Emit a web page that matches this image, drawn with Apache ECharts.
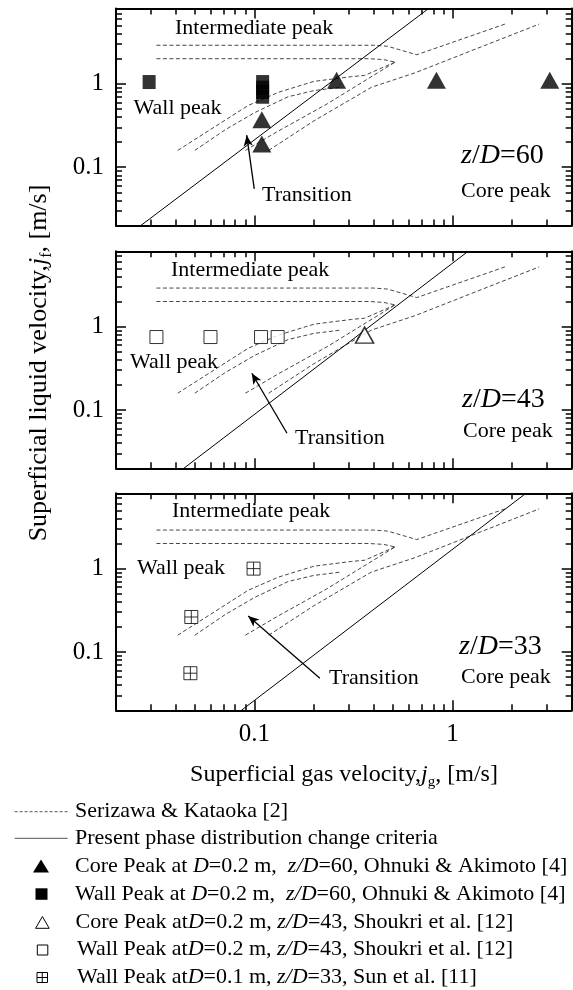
<!DOCTYPE html>
<html><head><meta charset="utf-8">
<script src="https://cdn.jsdelivr.net/npm/echarts@6/dist/echarts.min.js"></script>
<style>html,body{margin:0;padding:0;background:#fff}#c{width:573px;height:990px}</style>
</head><body><div id="c"></div>
<script>
// ---------------- data ----------------
const X_MIN = 0.02, X_MAX = 4;
const Y_MIN = 0.02, Y_MAX = 8;
const xTickMajor = [0.1, 1];
const xTickMinor = [0.03,0.04,0.05,0.06,0.07,0.08,0.09,0.2,0.3,0.4,0.5,0.6,0.7,0.8,0.9,2,3];
const yTickMajor = [0.1, 1];
const yTickMinor = [0.03,0.04,0.05,0.06,0.07,0.08,0.09,0.2,0.3,0.4,0.5,0.6,0.7,0.8,0.9,2,3,4,5,6,7];

// Serizawa & Kataoka map boundaries (same on every panel)
const skUpper     = [[0.032,2.9],[0.40,2.9],[0.47,2.82],[0.56,2.5],[0.66,2.23],[1.84,5.2]];
const skLower     = [[0.032,2.0],[0.38,2.0],[0.45,1.95],[0.513,1.82]];
const skWallTrans = [[0.041,0.159],[0.093,0.55],[0.132,0.79],[0.2,1.07],[0.31,1.22],[0.36,1.26],[0.513,1.82]];
const skInner     = [[0.050,0.159],[0.071,0.28],[0.1,0.45],[0.148,0.70],[0.2,0.83],[0.275,0.91]];
const skTransCore = [[0.090,0.159],[0.129,0.263],[0.233,0.575],[0.513,1.82]];
const skCore      = [[0.118,0.159],[0.2,0.36],[0.39,0.91],[0.645,1.35],[2.74,5.2]];

// Present phase distribution change criteria
const critP1 = [[0.0267,0.02],[0.758,8]];
const critP2 = [[0.044,0.02],[1.2,8]];
const critP3 = [[0.086,0.02],[2.35,8]];

// Experimental points
const p1CoreX = [0.26, 0.83, 3.1, 0.109, 0.109];
const p1CoreY = [1.1, 1.1, 1.1, 0.37, 0.19];
const p1WallX = [0.0294, 0.11, 0.11, 0.11, 0.11];
const p1WallY = [1.05, 0.7, 0.8, 0.9, 1.05];
const p2CoreX = [0.36];
const p2CoreY = [0.79];
const p2WallX = [0.032, 0.060, 0.108, 0.131];
const p2WallY = [0.75, 0.75, 0.75, 0.75];
const p3WallX = [0.099, 0.048, 0.0475];
const p3WallY = [1.0, 0.263, 0.0557];

// "Transition" arrows [tail, head]
const arrowP1 = [[0.0998,0.055],[0.0914,0.242]];
const arrowP2 = [[0.146,0.0527],[0.097,0.276]];
const arrowP3 = [[0.214,0.0485],[0.093,0.271]];

const panelLabels = ['60','43','33'];

// ---------------- layout ----------------
const FONT = "'Liberation Serif','Times New Roman',serif";
const TOPS = [8.5, 251.3, 493.3];
const GH = 217;
const GL = 116, GR = 1.3;

const zip = (xs, ys) => xs.map((x,i)=>[x, ys[i]]);

const grids = TOPS.map(t => ({left:GL, right:GR, top:t, height:GH}));
const xAxes = [], yAxes = [];
function tickSt(){ return {color:'#000', width:1.5}; }
for (let g=0; g<3; g++){
  const bx = {type:'log', logBase:10, min:X_MIN, max:X_MAX, gridIndex:g, splitLine:{show:false},
              axisLabel:{show:false}, axisTick:{show:false}, axisLine:{show:false}};
  xAxes.push(
    {...bx, position:'bottom',
      axisLine:{show:true, onZero:false, lineStyle:{color:'#000', width:2}},
      axisTick:{show:true, inside:true, length:10, lineStyle:tickSt(), customValues:xTickMajor},
      axisLabel:{show:g===2, customValues:xTickMajor, margin:12, color:'#000', fontFamily:FONT, fontSize:25,
                 formatter:v=>String(+(+v).toPrecision(3))}},
    {...bx, position:'bottom', axisTick:{show:true, inside:true, length:6, lineStyle:tickSt(), customValues:xTickMinor}},
    {...bx, position:'top',
      axisLine:{show:true, onZero:false, lineStyle:{color:'#000', width:2}},
      axisTick:{show:true, inside:true, length:10, lineStyle:tickSt(), customValues:xTickMajor}},
    {...bx, position:'top', axisTick:{show:true, inside:true, length:6, lineStyle:tickSt(), customValues:xTickMinor}}
  );
  const by = {type:'log', logBase:10, min:Y_MIN, max:Y_MAX, gridIndex:g, splitLine:{show:false},
              axisLabel:{show:false}, axisTick:{show:false}, axisLine:{show:false}};
  yAxes.push(
    {...by, position:'left',
      axisLine:{show:true, onZero:false, lineStyle:{color:'#000', width:2}},
      axisTick:{show:true, inside:true, length:10, lineStyle:tickSt(), customValues:yTickMajor},
      axisLabel:{show:true, customValues:yTickMajor, margin:12, color:'#000', fontFamily:FONT, fontSize:25,
                 formatter:v=>String(+(+v).toPrecision(3))}},
    {...by, position:'left', axisTick:{show:true, inside:true, length:6, lineStyle:tickSt(), customValues:yTickMinor}},
    {...by, position:'right',
      axisLine:{show:true, onZero:false, lineStyle:{color:'#000', width:2}},
      axisTick:{show:true, inside:true, length:10, lineStyle:tickSt(), customValues:yTickMajor}},
    {...by, position:'right', axisTick:{show:true, inside:true, length:6, lineStyle:tickSt(), customValues:yTickMinor}}
  );
}

const dashStyle = {color:'#474747', width:1, type:[4,2.5]};
const series = [];
const crits = [critP1, critP2, critP3];
const arrows = [arrowP1, arrowP2, arrowP3];
const crossPath = 'path://M0,0H12V12H0Z M6,0V12 M0,6H12';
for (let g=0; g<3; g++){
  const ax = {xAxisIndex:4*g, yAxisIndex:4*g};
  [skUpper, skLower, skWallTrans, skInner, skTransCore, skCore].forEach(d => {
    series.push({type:'line', ...ax, data:d, symbol:'none', lineStyle:dashStyle, z:2, silent:true});
  });
  series.push({type:'line', ...ax, data:crits[g], symbol:'none', lineStyle:{color:'#000', width:1}, z:3, silent:true,
    markLine:{silent:true, symbol:['none','arrow'], symbolSize:[7,11], label:{show:false},
      lineStyle:{color:'#000', width:1.3, type:'solid'},
      data:[[{coord:arrows[g][0]},{coord:arrows[g][1]}]]}});
}
series.push({type:'scatter', xAxisIndex:0, yAxisIndex:0, data:zip(p1WallX,p1WallY), symbol:'rect', symbolSize:[13,14], itemStyle:{color:'#000'}, z:5});
series.push({type:'scatter', xAxisIndex:0, yAxisIndex:0, data:zip(p1CoreX,p1CoreY), symbol:'triangle', symbolSize:[19,17], itemStyle:{color:'#000'}, z:5});
series.push({type:'scatter', xAxisIndex:4, yAxisIndex:4, data:zip(p2WallX,p2WallY), symbol:'rect', symbolSize:[13,13], itemStyle:{color:'#fff', borderColor:'#000', borderWidth:1}, z:5});
series.push({type:'scatter', xAxisIndex:4, yAxisIndex:4, data:zip(p2CoreX,p2CoreY), symbol:'triangle', symbolSize:[18,16], itemStyle:{color:'#fff', borderColor:'#000', borderWidth:1.5}, z:5});
series.push({type:'scatter', xAxisIndex:8, yAxisIndex:8, data:zip(p3WallX,p3WallY), symbol:crossPath, symbolSize:[13,13], itemStyle:{color:'#fff', borderColor:'#000', borderWidth:1}, z:5});

// ---------------- text annotations ----------------
const rich = {
  n:{fontFamily:FONT, fontSize:22, color:'#000'},
  i:{fontFamily:FONT, fontSize:22, fontStyle:'italic', color:'#000'},
  bn:{fontFamily:FONT, fontSize:28, color:'#000'},
  bi:{fontFamily:FONT, fontSize:28, fontStyle:'italic', color:'#000'},
  tn:{fontFamily:FONT, fontSize:24, color:'#000'},
  ti:{fontFamily:FONT, fontSize:24, fontStyle:'italic', color:'#000'},
  ts:{fontFamily:FONT, fontSize:15, color:'#000', padding:[14,0,0,0]},
  yn:{fontFamily:FONT, fontSize:26, color:'#000'},
  yi:{fontFamily:FONT, fontSize:26, fontStyle:'italic', color:'#000'},
  ys:{fontFamily:FONT, fontSize:16, color:'#000', padding:[15,0,0,0]}
};
function txt(x, y, text){
  return {type:'text', x:x, y:y, silent:true, z:10,
    style:{text:text, rich:rich, align:'left', verticalAlign:'middle', fontFamily:FONT, fontSize:22, fill:'#000'}};
}
const gr = [];
const lab = [
  {ip:[175,28], wp:[133.5,108], zd:[461,156], cp:[461,191], tr:[262,195]},
  {ip:[171,270], wp:[130,362], zd:[462,400], cp:[463,431], tr:[295,438]},
  {ip:[172,511], wp:[137,568], zd:[459,647], cp:[461,677], tr:[329,678]}
];
lab.forEach((L,g) => {
  gr.push(txt(L.ip[0], L.ip[1], '{n|Intermediate peak}'));
  gr.push(txt(L.wp[0], L.wp[1], '{n|Wall peak}'));
  gr.push(txt(L.zd[0], L.zd[1], '{bi|z}{bn|/}{bi|D}{bn|=' + panelLabels[g] + '}'));
  gr.push(txt(L.cp[0], L.cp[1], '{n|Core peak}'));
  gr.push(txt(L.tr[0], L.tr[1], '{n|Transition}'));
});
gr.push({type:'text', x:344, y:775, silent:true, z:10,
  style:{text:'{tn|Superficial gas velocity,}{ti|j}{ts|g}{tn|, [m/s]}', rich:rich, align:'center', verticalAlign:'middle'}});
gr.push({type:'text', x:39, y:363, rotation:Math.PI/2, silent:true, z:10,
  style:{text:'{yn|Superficial liquid velocity,}{yi|j}{ys|f}{yn|, [m/s]}', rich:rich, align:'center', verticalAlign:'middle'}});

// legend
const legY = [811.7, 838.3, 866.7, 894.3, 922, 949.5, 977];
gr.push({type:'line', shape:{x1:14.6, y1:legY[0], x2:67.6, y2:legY[0]}, style:{stroke:'#555', lineWidth:1, lineDash:[3,2]}, silent:true});
gr.push({type:'line', shape:{x1:14.6, y1:legY[1], x2:67.6, y2:legY[1]}, style:{stroke:'#555', lineWidth:1}, silent:true});
gr.push({type:'polygon', shape:{points:[[41,859.5],[49,872.5],[33,872.5]]}, style:{fill:'#000'}, silent:true});
gr.push({type:'rect', shape:{x:35.5, y:888.3, width:12, height:11.5}, style:{fill:'#000'}, silent:true});
gr.push({type:'polygon', shape:{points:[[42.4,916.5],[49.2,928.3],[35.6,928.3]]}, style:{fill:'#fff', stroke:'#000', lineWidth:1}, silent:true});
gr.push({type:'rect', shape:{x:37.3, y:945, width:10.5, height:10}, style:{fill:'#fff', stroke:'#000', lineWidth:1}, silent:true});
gr.push({type:'rect', shape:{x:37, y:972.5, width:10.5, height:10}, style:{fill:'#fff', stroke:'#000', lineWidth:1}, silent:true});
gr.push({type:'line', shape:{x1:42.25, y1:972.5, x2:42.25, y2:982.5}, style:{stroke:'#000', lineWidth:1}, silent:true});
gr.push({type:'line', shape:{x1:37, y1:977.5, x2:47.5, y2:977.5}, style:{stroke:'#000', lineWidth:1}, silent:true});
gr.push(txt(75, legY[0], '{n|Serizawa & Kataoka [2]}'));
gr.push(txt(75, legY[1], '{n|Present phase distribution change criteria}'));
gr.push(txt(75, legY[2], '{n|Core Peak at }{i|D}{n|=0.2 m,  }{i|z/D}{n|=60, Ohnuki & Akimoto [4]}'));
gr.push(txt(75, legY[3], '{n|Wall Peak at }{i|D}{n|=0.2 m,  }{i|z/D}{n|=60, Ohnuki & Akimoto [4]}'));
gr.push(txt(75.5, legY[4], '{n|Core Peak at}{i|D}{n|=0.2 m, }{i|z/D}{n|=43, Shoukri et al. [12]}'));
gr.push(txt(77, legY[5], '{n|Wall Peak at}{i|D}{n|=0.2 m, }{i|z/D}{n|=43, Shoukri et al. [12]}'));
gr.push(txt(77, legY[6], '{n|Wall Peak at}{i|D}{n|=0.1 m, }{i|z/D}{n|=33, Sun et al. [11]}'));

const chart = echarts.init(document.getElementById('c'), null, {renderer:'canvas'});
chart.setOption({
  animation:false,
  backgroundColor:'#fff',
  grid:grids, xAxis:xAxes, yAxis:yAxes, series:series, graphic:gr
});
</script></body></html>
